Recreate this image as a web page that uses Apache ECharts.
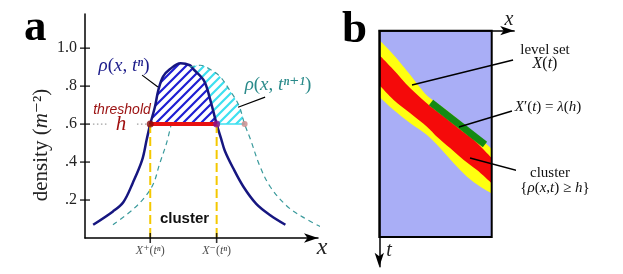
<!DOCTYPE html>
<html><head><meta charset="utf-8">
<script src="https://cdn.jsdelivr.net/npm/echarts@6/dist/echarts.min.js"></script>
<style>html,body{margin:0;padding:0;background:#fff}#c{width:623px;height:274px}</style>
</head><body><div id="c"></div>
<script>
// ---------- Panel a data ----------
const densityTicks = [0.2, 0.4, 0.6, 0.8, 1.0];
const solidX = [0.35,1.2,1.65,2.05,2.45,2.65,2.8,3.0,3.15,3.35,3.65,4.1,4.5,4.65,5.1,5.35,5.65,5.85,6.0,6.35,6.8,7.35,7.95,8.6];
const solidY = [0.07,0.14,0.19,0.29,0.41,0.52,0.6,0.69,0.78,0.85,0.89,0.92,0.91,0.89,0.83,0.74,0.6,0.52,0.46,0.37,0.27,0.18,0.12,0.07];
const dashedLeftX = [1.2,2.05,2.6,2.95,3.2,3.5,3.7];
const dashedLeftY = [0.07,0.15,0.22,0.29,0.39,0.5,0.6];
const dashedRightX = [4.5,4.95,5.35,5.8,6.2,6.6,6.85,7.1,7.5,7.95,8.65,9.35,10.1];
const dashedRightY = [0.90,0.91,0.89,0.85,0.78,0.70,0.6,0.52,0.38,0.27,0.17,0.11,0.06];
const threshold = 0.6;
const xPlus = 2.8, xMinus = 5.65, dashedCross = 6.85;
const xTickSigns = ['\u207a', '\u207b'];
const dottedX = [[0.34, 0.94], [2.23, 2.7]];
const leaderA = [[[2.45,0.858],[3.13,0.795]], [[7.73,0.742],[6.57,0.689]]];

// ---------- Panel b data ----------
const rectX = [0, 10], rectT = [0, 18];
const yellowUpperX = [0,1.28,2.76,3.62,4.39,5.85,7.18,8.51,10];
const yellowUpperT = [0.81,2.12,3.87,4.96,5.79,6.83,7.88,8.97,10.32];
const redUpperX = [0,1.28,2.76,4.51,5.85,7.18,8.51,10];
const redUpperT = [2.12,3.43,5.03,6.57,7.57,8.62,9.62,11.11];
const redLowerX = [0,1.28,2.76,4.24,5.13,6.32,7.51,8.69,10];
const redLowerT = [4.74,6.05,7.21,8.38,9.25,10.26,11.28,12.16,13.32];
const yellowLowerX = [0,1.28,2.76,4.24,5.43,6.62,7.80,8.99,10];
const yellowLowerT = [5.76,6.92,8.08,9.10,10.26,11.57,12.74,13.61,14.19];
const greenX = [4.6, 9.4], greenT = [6.27, 9.93];
const leaderB = [[[2.91,4.74],[11.9,2.56]], [[7.09,8.40],[11.8,7.01]], [[8.07,11.11],[12.78,12.33]]];

const SERIF = '"Liberation Serif", "DejaVu Serif", serif';
const SANS = '"Liberation Sans", Arial, sans-serif';

function zip(xs, ys){ return xs.map((x,i)=>[x, ys[i]]); }
function hatch(color){
  const s=9, c=document.createElement('canvas'); c.width=s; c.height=s;
  const g=c.getContext('2d'); g.strokeStyle=color; g.lineWidth=2.2;
  g.beginPath(); g.moveTo(-1,s+1); g.lineTo(s+1,-1);
  g.moveTo(-2,2); g.lineTo(2,-2); g.moveTo(s-2,s+2); g.lineTo(s+2,s-2); g.stroke();
  return c;
}
function f(n){ return n.toFixed(2); }
function crPath(pts, cmd){
  let d = cmd + f(pts[0][0]) + ' ' + f(pts[0][1]);
  for (let i=0;i<pts.length-1;i++){
    const p0=pts[i-1]||pts[i], p1=pts[i], p2=pts[i+1], p3=pts[i+2]||p2;
    const c1=[p1[0]+(p2[0]-p0[0])/6, p1[1]+(p2[1]-p0[1])/6];
    const c2=[p2[0]-(p3[0]-p1[0])/6, p2[1]-(p3[1]-p1[1])/6];
    d += ' C' + f(c1[0])+' '+f(c1[1])+' '+f(c2[0])+' '+f(c2[1])+' '+f(p2[0])+' '+f(p2[1]);
  }
  return d;
}

const solidPts = zip(solidX, solidY);
const blueHatchPts = solidPts.filter(p=>p[0]>=xPlus && p[0]<=xMinus);
const cyanTop = zip(dashedRightX, dashedRightY).filter(p=>p[0]<=dashedCross);
const cyanSolid = solidPts.filter(p=>p[0]>=dashedRightX[0] && p[0]<=xMinus).reverse();

const blueImg = hatch('#1e1ed2');
const cyanImg = hatch('#3ee0f0');

const chart = echarts.init(document.getElementById('c'), null, {renderer:'canvas'});

const dashedData = zip(dashedLeftX, dashedLeftY).concat([[4.1,'-']]).concat(zip(dashedRightX, dashedRightY));
function segData(segs){ const out=[]; segs.forEach((s,i)=>{ if(i) out.push([s[0][0],'-']); out.push(s[0], s[1]); }); return out; }

function richSize(size, color){
  return {
    i:{fontFamily:SERIF, fontStyle:'italic', fontSize:size, fill:color, color:color},
    n:{fontFamily:SERIF, fontSize:size, fill:color, color:color},
    s:{fontFamily:SERIF, fontStyle:'italic', fontSize:size, fill:color, color:color}
  };
}

const option = {
  animation:false,
  grid:[
    {left:85, top:14, width:233, height:224},
    {left:379.3, top:30.7, width:134.9, height:236.1}
  ],
  xAxis:[
    {gridIndex:0, type:'value', min:0, max:10, z:5,
     axisLine:{show:true, onZero:false, symbol:['none','arrow'], symbolSize:[7,14], lineStyle:{color:'#000', width:1.5}},
     axisTick:{show:false}, axisLabel:{show:false}, splitLine:{show:false}},
    {gridIndex:1, type:'value', min:0, max:12, position:'top', z:5,
     axisLine:{show:true, onZero:false, symbol:['none','arrow'], symbolSize:[7,14], lineStyle:{color:'#000', width:1.5}},
     axisTick:{show:false}, axisLabel:{show:false}, splitLine:{show:false}}
  ],
  yAxis:[
    {gridIndex:0, type:'value', min:0, max:1.18, interval:0.2, z:5,
     axisLine:{show:true, onZero:false, lineStyle:{color:'#000', width:1.5}},
     axisTick:{show:false}, splitLine:{show:false},
     axisLabel:{margin:8, color:'#222', fontFamily:SERIF, fontSize:16,
       formatter:function(v){ if(v===0 || Math.abs(v*5-Math.round(v*5))>1e-6) return ''; return v>=1 ? v.toFixed(1) : v.toFixed(1).slice(1); }}},
    {gridIndex:1, type:'value', min:0, max:20.6, inverse:true, z:5,
     axisLine:{show:true, onZero:false, symbol:['arrow','none'], symbolSize:[7,14], lineStyle:{color:'#000', width:1.5}},
     axisTick:{show:false}, axisLabel:{show:false}, splitLine:{show:false}}
  ],
  series:[
    // ---- panel a ----
    {type:'custom', xAxisIndex:0, yAxisIndex:0, z:1, silent:true, data:[[0,0]],
     renderItem:function(params, api){
       const pts = blueHatchPts.map(p=>api.coord(p));
       const d = crPath(pts,'M') + ' Z';
       const top = cyanTop.map(p=>api.coord(p));
       const sol = cyanSolid.map(p=>api.coord(p));
       const d2 = crPath(top,'M') + ' ' + crPath(sol,'L') + ' Z';
       return {type:'group', children:[
         {type:'path', shape:{pathData:d}, style:{fill:{image:blueImg, repeat:'repeat'}, stroke:null}},
         {type:'path', shape:{pathData:d2}, style:{fill:{image:cyanImg, repeat:'repeat'}, stroke:null}}
       ]};
     }},
    {type:'line', xAxisIndex:0, yAxisIndex:0, z:3, data:solidPts, smooth:0.35, showSymbol:false, clip:false,
     lineStyle:{color:'#161680', width:2.5}},
    {type:'line', xAxisIndex:0, yAxisIndex:0, z:3, data:dashedData, smooth:0.35, showSymbol:false, connectNulls:false, clip:false,
     lineStyle:{color:'#3a9a9c', width:1.2, type:[5,4]}},
    {type:'line', xAxisIndex:0, yAxisIndex:0, z:4, data:[[xMinus,threshold],[dashedCross,threshold]], showSymbol:false,
     lineStyle:{color:'#3ee0f0', width:1.5}},
    {type:'line', xAxisIndex:0, yAxisIndex:0, z:4, data:[[xPlus,threshold],[xPlus,0],[xMinus,'-'],[xMinus,threshold],[xMinus,0]], showSymbol:false, connectNulls:false,
     lineStyle:{color:'#f4c800', width:2, type:[9,4]}},
    {type:'line', xAxisIndex:0, yAxisIndex:0, z:5, data:[[xPlus,threshold],[xMinus,threshold]], showSymbol:false,
     lineStyle:{color:'#e81010', width:4}},
    {type:'line', xAxisIndex:0, yAxisIndex:0, z:4, data:segData(dottedX.map(s=>[[s[0],threshold],[s[1],threshold]])), showSymbol:false, connectNulls:false,
     lineStyle:{color:'#888', width:1, type:[1.5,2.5]}},
    {type:'line', xAxisIndex:0, yAxisIndex:0, z:4, data:segData(leaderA), showSymbol:false, connectNulls:false, clip:false,
     lineStyle:{color:'#000', width:1.2}},
    {type:'scatter', xAxisIndex:0, yAxisIndex:0, z:6, silent:true,
     data:[{value:[xPlus,threshold], symbolSize:7, itemStyle:{color:'#8a0a0a'}},
           {value:[xMinus,threshold], symbolSize:7, itemStyle:{color:'#8a1090'}},
           {value:[dashedCross,threshold], symbolSize:6, itemStyle:{color:'#c88888'}}]},
    {type:'scatter', xAxisIndex:0, yAxisIndex:0, z:6, silent:true, symbol:'rect', symbolSize:[10,1.5],
     itemStyle:{color:'#000'}, data:densityTicks.map(v=>[0,v])},
    {type:'scatter', xAxisIndex:0, yAxisIndex:0, z:6, silent:true, symbol:'rect', symbolSize:[1.6,10], clip:false,
     itemStyle:{color:'#000'},
     data:[{value:[xPlus,0], name:xTickSigns[0]},{value:[xMinus,0], name:xTickSigns[1]}],
     label:{show:true, position:'bottom', distance:2,
       formatter:function(p){ return '{i|X}{s|'+p.name+'}{n|(}{i|t}{s|\u207f}{n|)}'; },
       rich:richSize(12,'#222')}},
    // ---- panel b ----
    {type:'custom', xAxisIndex:1, yAxisIndex:1, z:0, silent:true, data:[[0,0]],
     renderItem:function(params, api){
       const a = api.coord([rectX[0], rectT[0]]), b = api.coord([rectX[1], rectT[1]]);
       const yu = zip(yellowUpperX, yellowUpperT).map(p=>api.coord(p));
       const yl = zip(yellowLowerX, yellowLowerT).reverse().map(p=>api.coord(p));
       const ru = zip(redUpperX, redUpperT).map(p=>api.coord(p));
       const rl = zip(redLowerX, redLowerT).reverse().map(p=>api.coord(p));
       return {type:'group', children:[
         {type:'rect', shape:{x:a[0], y:a[1], width:b[0]-a[0], height:b[1]-a[1]}, style:{fill:'#a9aef6'}},
         {type:'path', shape:{pathData:crPath(yu,'M')+' '+crPath(yl,'L')+' Z'}, style:{fill:'#ffff10'}},
         {type:'path', shape:{pathData:crPath(ru,'M')+' '+crPath(rl,'L')+' Z'}, style:{fill:'#f50a0a'}}
       ]};
     }},
    {type:'line', xAxisIndex:1, yAxisIndex:1, z:2, data:zip(greenX, greenT), showSymbol:false,
     lineStyle:{color:'#148a14', width:7, cap:'butt'}},
    {type:'custom', xAxisIndex:1, yAxisIndex:1, z:3, silent:true, data:[[0,0]],
     renderItem:function(params, api){
       const a = api.coord([rectX[0], rectT[0]]), b = api.coord([rectX[1], rectT[1]]);
       return {type:'rect', shape:{x:a[0], y:a[1], width:b[0]-a[0], height:b[1]-a[1]}, style:{fill:null, stroke:'#000', lineWidth:2}};
     }},
    {type:'line', xAxisIndex:1, yAxisIndex:1, z:4, data:segData(leaderB), showSymbol:false, connectNulls:false, clip:false,
     lineStyle:{color:'#000', width:1.4}}
  ],
  graphic:[
    {type:'text', x:24, y:28, style:{text:'a', font:'bold 45px '+SERIF, fill:'#000', align:'left', verticalAlign:'middle'}},
    {type:'text', x:342, y:30, style:{text:'b', font:'bold 45px '+SERIF, fill:'#000', align:'left', verticalAlign:'middle'}},
    {type:'text', x:41.5, y:145, rotation:Math.PI/2, style:{text:'{n|density (}{i|m}{n|\u207b\u00b2)}', rich:richSize(21,'#222'), align:'center', verticalAlign:'middle'}},
    {type:'text', x:124, y:66, style:{text:'{i|\u03c1}{n|(}{i|x}{n|, }{i|t}{s|\u207f}{n|)}', rich:richSize(19,'#1c1c8a'), align:'center', verticalAlign:'middle'}},
    {type:'text', x:278, y:85, style:{text:'{i|\u03c1}{n|(}{i|x}{n|, }{i|t}{s|\u207f\u207a\u00b9}{n|)}', rich:richSize(19,'#2a8a8a'), align:'center', verticalAlign:'middle'}},
    {type:'text', x:122, y:110, style:{text:'threshold', font:'italic 14px '+SANS, fill:'#9a1010', align:'center', verticalAlign:'middle'}},
    {type:'text', x:121, y:124, style:{text:'h', font:'italic 21px '+SERIF, fill:'#a01010', align:'center', verticalAlign:'middle'}},
    {type:'text', x:184.5, y:219, style:{text:'cluster', font:'bold 15px '+SANS, fill:'#111', align:'center', verticalAlign:'middle'}},
    {type:'text', x:322, y:248, style:{text:'x', font:'italic 24px '+SERIF, fill:'#222', align:'center', verticalAlign:'middle'}},
    {type:'text', x:509, y:20, style:{text:'x', font:'italic 20px '+SERIF, fill:'#222', align:'center', verticalAlign:'middle'}},
    {type:'text', x:389, y:251, style:{text:'t', font:'italic 20px '+SERIF, fill:'#222', align:'center', verticalAlign:'middle'}},
    {type:'text', x:545, y:50, style:{text:'level set', font:'15px '+SERIF, fill:'#111', align:'center', verticalAlign:'middle'}},
    {type:'text', x:545, y:64, style:{text:'{i|X}{n|(}{i|t}{n|)}', rich:richSize(16,'#111'), align:'center', verticalAlign:'middle'}},
    {type:'text', x:548, y:107, style:{text:'{i|X}{n|\u2032(}{i|t}{n|) = }{i|\u03bb}{n|(}{i|h}{n|)}', rich:richSize(15,'#111'), align:'center', verticalAlign:'middle'}},
    {type:'text', x:550, y:173, style:{text:'cluster', font:'15px '+SERIF, fill:'#111', align:'center', verticalAlign:'middle'}},
    {type:'text', x:555, y:188, style:{text:'{n|{}{i|\u03c1}{n|(}{i|x}{n|,}{i|t}{n|) \u2265 }{i|h}}', font:'15px '+SERIF, fill:'#111', rich:richSize(15,'#111'), align:'center', verticalAlign:'middle'}}
  ]
};
chart.setOption(option);
</script>
</body></html>
